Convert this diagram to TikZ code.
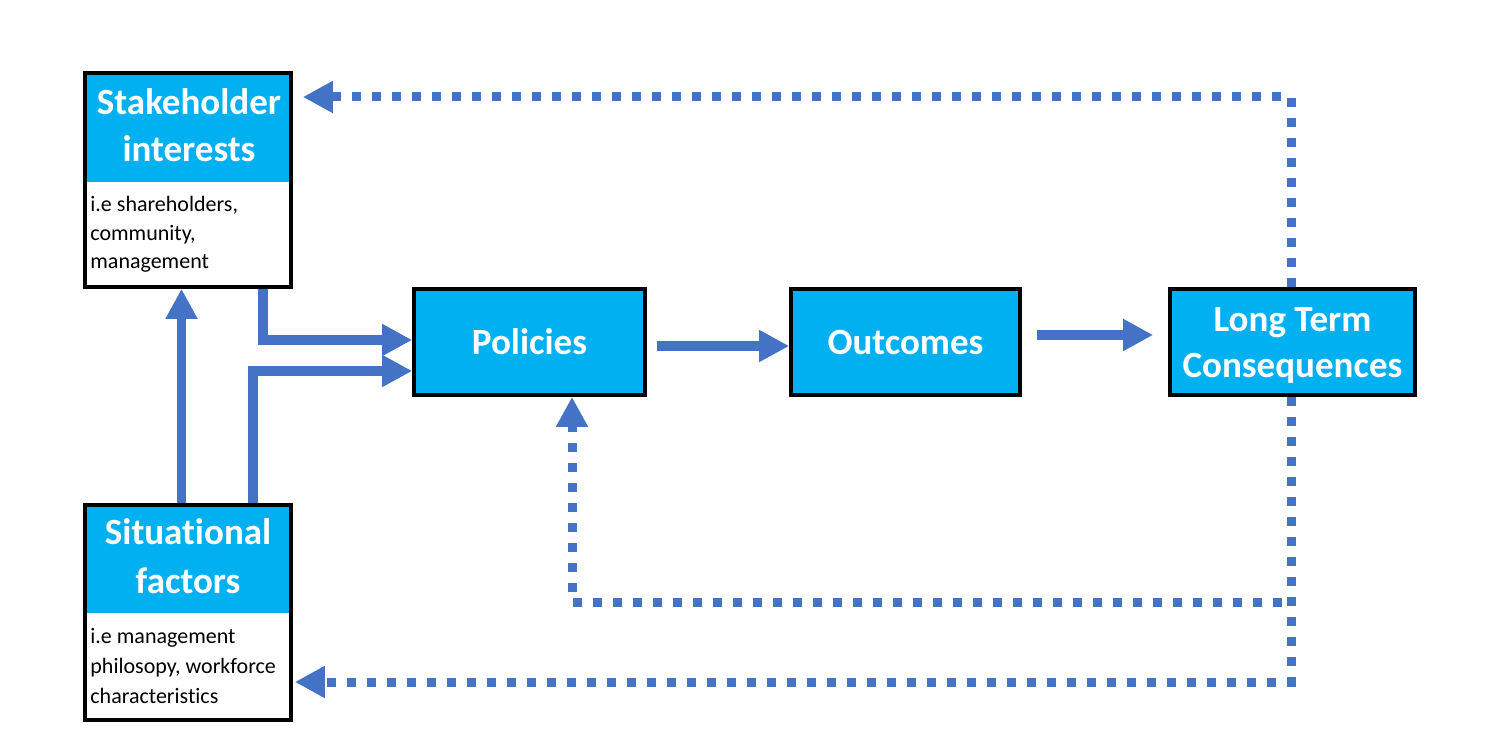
\documentclass[tikz,border=0pt]{standalone}
\usepackage{fontspec}
\setmainfont{Carlito}[RawFeature={-liga}]
\usetikzlibrary{arrows.meta}
\definecolor{hdr}{HTML}{00B0F0}
\definecolor{arr}{HTML}{4472C4}
\begin{document}
\begin{tikzpicture}[x=0.5pt,y=-0.5pt,
  box/.style={draw=black,line width=1.8pt,fill=hdr,inner sep=0pt},
  frame/.style={draw=black,line width=1.8pt,inner sep=0pt},
  htext/.style={text=white,font=\fontsize{18.5}{23.5}\selectfont\bfseries,anchor=base,inner sep=0pt},
  btext/.style={text=black,font=\fontsize{11}{14.75}\selectfont,anchor=base west,inner sep=0pt},
  solidarrow/.style={draw=arr,line width=4.75pt,-{Triangle[length=15pt,width=15pt]}},
  dotarrow/.style={draw=arr,line width=4.5pt,dash pattern=on 4.5pt off 5.5pt,-{Triangle[length=15pt,width=15pt]}},
  dotline/.style={draw=arr,line width=4.5pt,dash pattern=on 4.5pt off 5.5pt}]
\useasboundingbox (0,0) rectangle (1496,754);
% headers
\fill[hdr] (85,73) rectangle (291,182);
\fill[hdr] (85,505) rectangle (291,613);
\node[frame,minimum width=103pt,minimum height=107pt] (stake) at (188,180) {};
\node[frame,minimum width=103pt,minimum height=107.5pt] (sit) at (188,612.5) {};
% header texts
\node[htext] (st1) at (189,115) {Stakeholder};
\node[htext] (st2) at (189,162) {interests};
\node[htext] (si1) at (188,545) {Situational};
\node[htext] (si2) at (188,594) {factors};
% body texts
\node[btext] (sb1) at (90,212) {i.e shareholders,};
\node[btext] (sb2) at (90,240.5) {community,};
\node[btext] (sb3) at (90,269) {management};
\node[btext] (fb1) at (90,643) {i.e management};
\node[btext] (fb2) at (90,673) {philosopy, workforce};
\node[btext] (fb3) at (90,703) {characteristics};
% main boxes
\node[box,minimum width=115.5pt,minimum height=53pt] (pol) at (529.5,342) {};
\node[htext] (polt) at (529.5,355) {Policies};
\node[box,minimum width=114.5pt,minimum height=53pt] (out) at (905.5,342) {};
\node[htext] (outt) at (905.5,355) {Outcomes};
\node[box,minimum width=122.5pt,minimum height=53pt] (lt) at (1292.5,342) {};
\node[htext] (lt1) at (1292.5,332) {Long Term};
\node[htext] (lt2) at (1292.5,378) {Consequences};
% solid connectors
\draw[solidarrow] ([xshift=-3.25pt]sit.north) -- ([xshift=-3.25pt]stake.south);
\draw[solidarrow] ([xshift=-15pt]stake.south east) |- ([yshift=1pt]pol.west);
\draw[solidarrow] ([xshift=32.5pt]sit.north) |- ([yshift=-14.5pt]pol.west);
\draw[solidarrow,shorten <=5pt] ([yshift=-2pt]pol.east) -- ([yshift=-2pt]out.west);
\draw[solidarrow,shorten <=7.5pt,shorten >=7.5pt] ([yshift=3.5pt]out.east) -- ([yshift=3.5pt]lt.west);
% dotted feedback
\draw[dotarrow,shorten >=5pt] ([xshift=-0.75pt]lt.north) |- ([yshift=41.5pt]stake.east);
\draw[dotarrow,shorten >=1pt] ([xshift=-0.75pt]lt.south) |- ([yshift=-34.75pt]sit.east);
\coordinate (br) at (1282,602);
\draw[dotarrow] (br) -| ([xshift=21.25pt]pol.south);
\end{tikzpicture}
\end{document}
